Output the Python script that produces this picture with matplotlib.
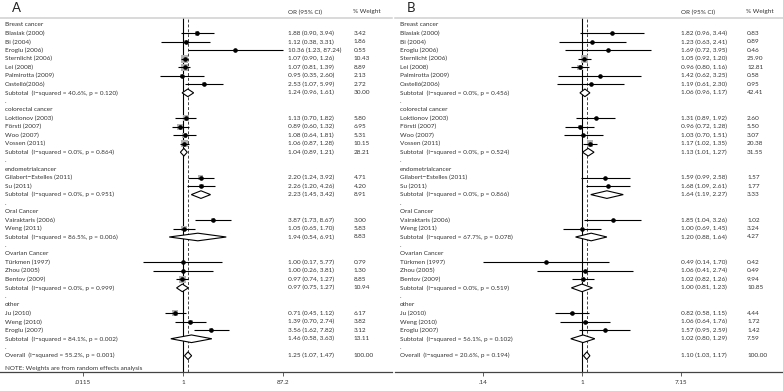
import numpy as np
import matplotlib.pyplot as plt

plt.rcParams['font.family'] = ['Lato', 'DejaVu Sans']

W, H = 783, 391

# study / group labels (same for both panels)
group_names = ["Breast cancer", "colorectal cancer", "endometrialcancer",
               "Oral Cancer", "Ovarian Cancer", "other"]
group_sizes = [7, 4, 2, 2, 3, 3]
study_names = ["Blasiak (2000)", "Bi (2004)", "Eroglu (2006)", "Sternlicht (2006)",
               "Lei (2008)", "Palmirotta (2009)", "Castelló(2006)",
               "Loktionov (2003)", "Försti (2007)", "Woo (2007)", "Vossen (2011)",
               "Gilabert−Estelles (2011)", "Su (2011)",
               "Vairaktaris (2006)", "Weng (2011)",
               "Türkmen (1997)", "Zhou (2005)", "Bentov (2009)",
               "Ju (2010)", "Weng (2010)", "Eroglu (2007)"]

# panel A
or_a = [1.88, 1.12, 10.36, 1.07, 1.07, 0.95, 2.53, 1.13, 0.89, 1.08, 1.06,
        2.20, 2.26, 3.87, 1.05, 1.00, 1.00, 0.97, 0.71, 1.39, 3.56]
lo_a = [0.90, 0.38, 1.23, 0.90, 0.81, 0.35, 1.07, 0.70, 0.60, 0.64, 0.87,
        1.24, 1.20, 1.73, 0.65, 0.17, 0.26, 0.74, 0.45, 0.70, 1.62]
hi_a = [3.94, 3.31, 87.24, 1.26, 1.39, 2.60, 5.99, 1.82, 1.32, 1.81, 1.28,
        3.92, 4.26, 8.67, 1.70, 5.77, 3.81, 1.27, 1.12, 2.74, 7.82]
wt_a = [3.42, 1.86, 0.55, 10.43, 8.89, 2.13, 2.72, 5.80, 6.95, 5.31, 10.15,
        4.71, 4.20, 3.00, 5.83, 0.79, 1.30, 8.85, 6.17, 3.82, 3.12]
sub_or_a = [1.24, 1.04, 2.23, 1.94, 0.97, 1.46]
sub_lo_a = [0.96, 0.89, 1.45, 0.54, 0.75, 0.58]
sub_hi_a = [1.61, 1.21, 3.42, 6.91, 1.27, 3.63]
sub_wt_a = [30.00, 28.21, 8.91, 8.83, 10.94, 13.11]
sub_i2_a = [40.6, 0.0, 0.0, 86.5, 0.0, 84.1]
sub_p_a = [0.120, 0.864, 0.951, 0.006, 0.999, 0.002]
overall_a = [1.25, 1.07, 1.47, 100.00]
overall_stats_a = [55.2, 0.001]
ticks_a = [0.0115, 1, 87.2]
ticklabels_a = [".0115", "1", "87.2"]

# panel B
or_b = [1.82, 1.23, 1.69, 1.05, 0.96, 1.42, 1.19, 1.31, 0.96, 1.03, 1.17,
        1.59, 1.68, 1.85, 1.00, 0.49, 1.06, 1.02, 0.82, 1.06, 1.57]
lo_b = [0.96, 0.63, 0.72, 0.92, 0.80, 0.62, 0.61, 0.89, 0.72, 0.70, 1.02,
        0.99, 1.09, 1.04, 0.69, 0.14, 0.41, 0.82, 0.58, 0.64, 0.95]
hi_b = [3.44, 2.41, 3.95, 1.20, 1.16, 3.25, 2.30, 1.92, 1.28, 1.51, 1.35,
        2.58, 2.61, 3.26, 1.45, 1.70, 2.74, 1.26, 1.15, 1.76, 2.59]
wt_b = [0.83, 0.89, 0.46, 25.90, 12.81, 0.58, 0.95, 2.60, 5.50, 3.07, 20.38,
        1.57, 1.77, 1.02, 3.24, 0.42, 0.49, 9.94, 4.44, 1.72, 1.42]
sub_or_b = [1.06, 1.13, 1.64, 1.20, 1.00, 1.02]
sub_lo_b = [0.96, 1.01, 1.19, 0.88, 0.81, 0.80]
sub_hi_b = [1.17, 1.27, 2.27, 1.64, 1.23, 1.29]
sub_wt_b = [42.41, 31.55, 3.33, 4.27, 10.85, 7.59]
sub_i2_b = [0.0, 0.0, 0.0, 67.7, 0.0, 56.1]
sub_p_b = [0.456, 0.524, 0.866, 0.078, 0.519, 0.102]
overall_b = [1.10, 1.03, 1.17, 100.00]
overall_stats_b = [20.6, 0.194]
ticks_b = [0.14, 1, 7.15]
ticklabels_b = [".14", "1", "7.15"]

FS = 4.6
TXT = '#333333'
ROW0, DROW = 25.0, 8.48   # pixel y of first row, row spacing
TOP, BOT = 18.0, 372.0


def draw_panel(fig, letter, left, right, origin, kpx, col_or, col_wt,
               ors, los, his, wts, s_or, s_lo, s_hi, s_wt, s_i2, s_p,
               overall, ostats, ticks, ticklabels, note=None):
    ax = fig.add_axes([left / W, 1 - BOT / H, (right - left) / W, (BOT - TOP) / H])
    ax.set_xscale('log')
    ax.set_xlim(np.exp((left - origin) / kpx), np.exp((right - origin) / kpx))
    ax.set_ylim((BOT - ROW0) / DROW, (TOP - ROW0) / DROW)
    fx = lambda px: (px - left) / (right - left)
    tr = ax.get_yaxis_transform()
    wmax = max(wts)

    def label(r, s, x=5):
        ax.text(fx(left + x), r, s, transform=tr, fontsize=FS, color=TXT, va='center')

    def values(r, o, l, h, w):
        ax.text(fx(col_or), r, "%.2f (%.2f, %.2f)" % (o, l, h), transform=tr,
                fontsize=FS, color=TXT, va='center')
        ax.text(fx(col_wt), r, "%.2f" % w, transform=tr, fontsize=FS, color=TXT, va='center')

    def diamond(r, o, l, h):
        ax.fill([l, o, h, o], [r, r - 0.45, r, r + 0.45], facecolor='white',
                edgecolor='black', lw=0.8, zorder=5)

    r = 0
    k = 0
    for g, n in enumerate(group_sizes):
        label(r, group_names[g])
        r += 1
        rows = np.arange(r, r + n)
        o = ors[k:k + n]
        l = los[k:k + n]
        h = his[k:k + n]
        w = wts[k:k + n]
        side = 7.5 * np.sqrt(np.array(w) / wmax) / 1.389
        ax.scatter(o, rows, marker='s', s=side ** 2, color='#b3b3b3',
                   edgecolors='none', zorder=2)
        ax.hlines(rows, l, h, colors='black', lw=0.8, zorder=3)
        ax.plot(o, rows, 'o', ms=2.3, color='black', zorder=4)
        for j in range(n):
            label(rows[j], study_names[k + j])
            values(rows[j], o[j], l[j], h[j], w[j])
        r += n
        label(r, "Subtotal  (I−squared = %.1f%%, p = %.3f)" % (s_i2[g], s_p[g]))
        values(r, s_or[g], s_lo[g], s_hi[g], s_wt[g])
        diamond(r, s_or[g], s_lo[g], s_hi[g])
        r += 1
        label(r, ".")
        r += 1
        k += n

    label(r, "Overall  (I−squared = %.1f%%, p = %.3f)" % (ostats[0], ostats[1]))
    values(r, overall[0], overall[1], overall[2], overall[3])
    diamond(r, overall[0], overall[1], overall[2])
    if note:
        label(r + 1.55, note)

    ax.axvline(1, color='black', lw=0.8, zorder=1)
    ax.axvline(overall[0], color='#444444', lw=0.7, ls=(0, (3, 2)), zorder=1)

    for s in ['left', 'right']:
        ax.spines[s].set_visible(False)
    ax.spines['top'].set_color('#cfcfcf')
    ax.spines['top'].set_linewidth(1.1)
    ax.spines['bottom'].set_color('#444444')
    ax.spines['bottom'].set_linewidth(0.9)
    ax.set_yticks([])
    ax.set_xticks(ticks)
    ax.set_xticklabels(ticklabels)
    ax.xaxis.set_minor_locator(plt.NullLocator())
    ax.tick_params(axis='x', length=3, width=0.6, labelsize=FS, pad=2.5,
                   colors='#444444', labelcolor=TXT)
    ax.patch.set_alpha(0)

    fig.text((left + 12) / W, 1 - 8 / H, letter, fontsize=9.5, color='#222222', va='center')
    fig.text(col_or / W, 1 - 12 / H, "OR (95% CI)", fontsize=FS, color=TXT, va='center')
    fig.text((col_wt - 1) / W, 1 - 12 / H, "% Weight", fontsize=FS, color=TXT, va='center')
    return ax


fig = plt.figure(figsize=(W / 100, H / 100), dpi=100)
draw_panel(fig, "A", 0, 392, 183, 22.38, 288, 354,
           or_a, lo_a, hi_a, wt_a, sub_or_a, sub_lo_a, sub_hi_a, sub_wt_a,
           sub_i2_a, sub_p_a, overall_a, overall_stats_a, ticks_a, ticklabels_a,
           note="NOTE: Weights are from random effects analysis")
draw_panel(fig, "B", 395, 783, 582, 50.33, 681, 747,
           or_b, lo_b, hi_b, wt_b, sub_or_b, sub_lo_b, sub_hi_b, sub_wt_b,
           sub_i2_b, sub_p_b, overall_b, overall_stats_b, ticks_b, ticklabels_b)
fig.savefig("out.png", dpi=100)
